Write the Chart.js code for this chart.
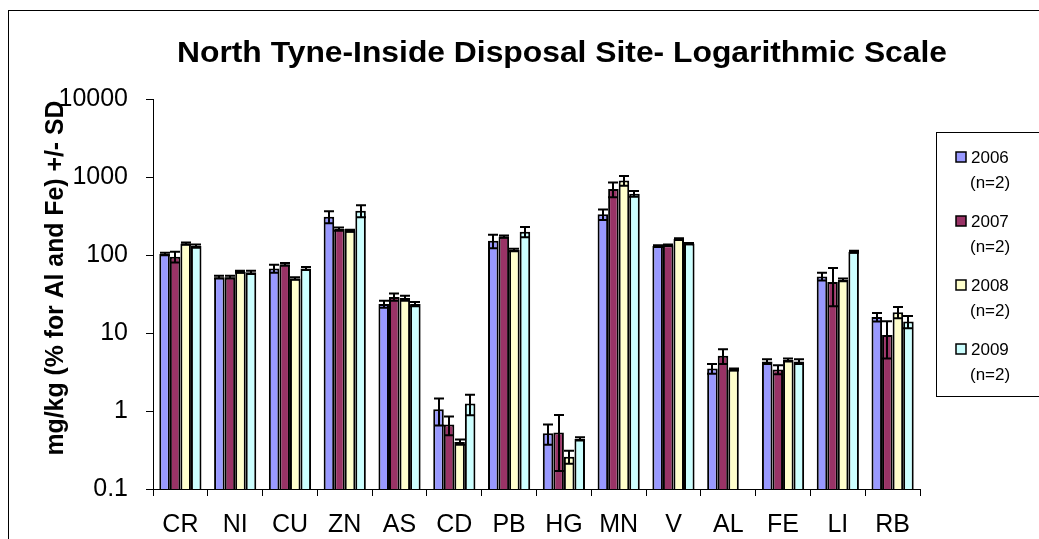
<!DOCTYPE html>
<html>
<head>
<meta charset="utf-8">
<script src="https://cdn.jsdelivr.net/npm/chart.js@4"></script>
<style>
html,body{margin:0;padding:0;background:#fff;}
#wrap{position:relative;width:1039px;height:539px;}
</style>
</head>
<body>
<div id="wrap"><canvas id="c" width="1039" height="539"></canvas></div>
<script>
const categories = ['CR','NI','CU','ZN','AS','CD','PB','HG','MN','V','AL','FE','LI','RB'];
const seriesNames = ['2006','2007','2008','2009'];
const nLabel = '(n=2)';
const v2006 = [103, 52, 67, 310, 23.5, 1.05, 152, 0.52, 332, 130, 3.5, 4.3, 53, 16];
const sd2006 = [4, 2, 8, 55, 2.5, 0.4, 30, 0.15, 50, 3, 0.5, 0.3, 6, 2];
const v2007 = [95, 52, 76, 215, 29, 0.67, 172, 0.53, 700, 133, 5.1, 3.4, 45, 9.4];
const sd2007 = [15, 2, 3, 10, 3, 0.18, 6, 0.36, 150, 3, 1.1, 0.45, 23, 4.7];
const v2008 = [140, 61, 50, 205, 28, 0.40, 116, 0.26, 900, 160, 3.4, 4.5, 48, 18.5];
const sd2008 = [5, 2, 2, 6, 2, 0.03, 4, 0.05, 130, 4, 0.1, 0.2, 2, 3];
const v2009 = [130, 60, 67, 370, 23.5, 1.25, 199, 0.44, 610, 140, null, 4.3, 110, 14];
const sd2009 = [6, 3, 3, 65, 1.5, 0.37, 30, 0.02, 50, 3, null, 0.3, 3, 2.5];
const yTicks = [0.1, 1, 10, 100, 1000, 10000];
const titleText = 'North Tyne-Inside Disposal Site- Logarithmic Scale';
const yTitleText = 'mg/kg (% for Al and Fe) +/- SD';

const colors = ['#9999FF', '#993366', '#FFFFCC', '#CCFFFF'];
const values = [v2006, v2007, v2008, v2009];
const sds = [sd2006, sd2007, sd2008, sd2009];
const FONT = "'Liberation Sans', Arial, sans-serif";

const datasets = seriesNames.map((name, i) => ({
  label: name + ' ' + nLabel,
  data: values[i],
  sd: sds[i],
  backgroundColor: colors[i],
  borderColor: '#000',
  borderWidth: 2,
  borderSkipped: 'bottom',
  categoryPercentage: 0.77,
  barPercentage: 1.0
}));

const decorPlugin = {
  id: 'decor',
  beforeDraw(chart) {
    const ctx = chart.ctx;
    ctx.save();
    ctx.fillStyle = '#fff';
    ctx.fillRect(0, 0, chart.width, chart.height);
    ctx.strokeStyle = '#000';
    ctx.lineWidth = 1;
    ctx.strokeRect(8.5, 10.5, 1100, 600);
    ctx.restore();
  },
  afterDatasetsDraw(chart) {
    const ctx = chart.ctx;
    const y = chart.scales.y;
    ctx.save();
    ctx.strokeStyle = '#000';
    ctx.lineWidth = 2;
    chart.data.datasets.forEach((ds, di) => {
      const meta = chart.getDatasetMeta(di);
      meta.data.forEach((el, i) => {
        const v = ds.data[i], s = ds.sd[i];
        if (v == null || s == null) return;
        const yt = y.getPixelForValue(v + s);
        const yb = y.getPixelForValue(Math.max(v - s, 0.1001));
        const x = Math.round(el.x);
        const cw = 5;
        ctx.beginPath();
        ctx.moveTo(x, yt); ctx.lineTo(x, yb);
        ctx.moveTo(x - cw, yt); ctx.lineTo(x + cw, yt);
        ctx.moveTo(x - cw, yb); ctx.lineTo(x + cw, yb);
        ctx.stroke();
      });
    });
    ctx.restore();
  },
  afterDraw(chart) {
    const ctx = chart.ctx;
    ctx.save();
    // title
    ctx.fillStyle = '#000';
    ctx.font = 'bold 30px ' + FONT;
    ctx.textAlign = 'center';
    ctx.textBaseline = 'alphabetic';
    ctx.save();
    ctx.translate(562, 62);
    const tw = ctx.measureText(titleText).width;
    ctx.scale(770 / tw, 1);
    ctx.fillText(titleText, 0, 0);
    ctx.restore();
    // y title
    ctx.save();
    ctx.translate(56, 278);
    ctx.rotate(-Math.PI / 2);
    ctx.font = 'bold 25px ' + FONT;
    ctx.textAlign = 'center';
    ctx.textBaseline = 'middle';
    const yw = ctx.measureText(yTitleText).width;
    ctx.scale(355 / yw, 1);
    ctx.fillText(yTitleText, 0, 0);
    ctx.restore();
    // legend
    ctx.strokeStyle = '#000';
    ctx.lineWidth = 1;
    ctx.strokeRect(936.5, 132.5, 200, 264);
    ctx.font = '17px ' + FONT;
    ctx.textAlign = 'left';
    chart.data.datasets.forEach((ds, i) => {
      const y0 = 152 + i * 64;
      ctx.fillStyle = ds.backgroundColor;
      ctx.fillRect(956, y0, 10, 10);
      ctx.lineWidth = 1.5;
      ctx.strokeRect(956, y0, 10, 10);
      ctx.fillStyle = '#000';
      const parts = ds.label.split(' ');
      ctx.fillText(parts[0], 971, y0 + 11);
      ctx.fillText(parts[1], 970, y0 + 36);
    });
    ctx.restore();
  }
};

new Chart(document.getElementById('c'), {
  type: 'bar',
  data: { labels: categories, datasets },
  options: {
    responsive: false,
    animation: false,
    layout: { padding: { left: 10, top: 99, right: 119, bottom: 0 } },
    plugins: { legend: { display: false }, title: { display: false }, tooltip: { enabled: false } },
    scales: {
      x: {
        offset: true,
        grid: { display: true, drawOnChartArea: false, drawTicks: true, tickLength: 7, color: '#000', offset: true },
        border: { display: true, color: '#000', width: 1 },
        ticks: { color: '#000', font: { family: FONT, size: 25 }, padding: 14, maxRotation: 0, autoSkip: false },
        afterFit(scale) { scale.height = 50; }
      },
      y: {
        type: 'logarithmic',
        min: 0.1,
        max: 10000,
        grid: { display: true, drawOnChartArea: false, drawTicks: true, tickLength: 7, color: '#000' },
        border: { display: true, color: '#000', width: 1 },
        ticks: { color: '#000', font: { family: FONT, size: 25 }, padding: 18, callback: (v) => String(v) },
        afterBuildTicks(scale) { scale.ticks = yTicks.map(v => ({ value: v })); },
        afterFit(scale) { scale.width = 143; }
      }
    }
  },
  plugins: [decorPlugin]
});
</script>
</body>
</html>
